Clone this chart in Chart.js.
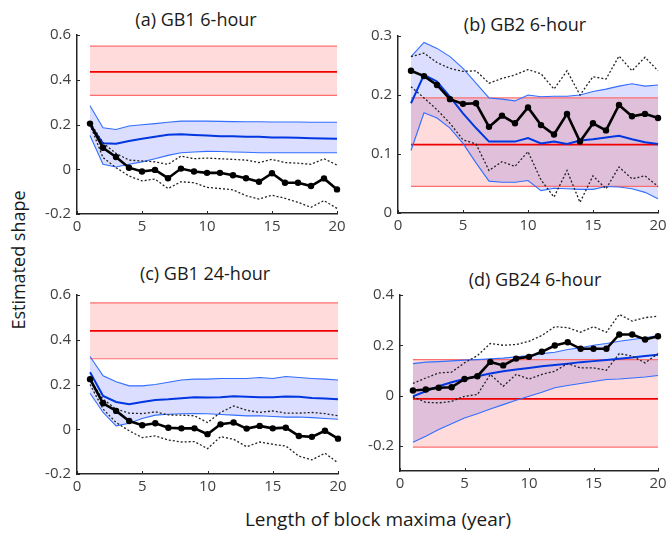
<!DOCTYPE html>
<html>
<head>
<meta charset="utf-8">
<script src="https://cdn.jsdelivr.net/npm/chart.js@4/dist/chart.umd.min.js"></script>
<style>
  body { margin: 0; background: #fff; }
  #wrap { position: relative; width: 667px; height: 534px; font-family: "Open Sans", sans-serif; color: #1a1a1a; }
  canvas { position: absolute; }
  .lbl { position: absolute; white-space: nowrap; transform: translate(-50%, -50%); font-size: 18px; }
  .ylbl { transform: translate(-50%, -50%) rotate(-90deg); font-size: 18px; }
</style>
</head>
<body>
<div id="wrap">
  <div class="lbl" style="left:196px;top:19px">(a) GB1 6-hour</div>
  <div class="lbl" style="left:525px;top:24px">(b) GB2 6-hour</div>
  <div class="lbl" style="left:205px;top:273px">(c) GB1 24-hour</div>
  <div class="lbl" style="left:535px;top:279px">(d) GB24 6-hour</div>
  <div class="lbl ylbl" style="left:18px;top:260px">Estimated shape</div>
  <div class="lbl" style="left:378px;top:519px;font-size:19px">Length of block maxima (year)</div>
  <canvas id="cA"></canvas>
  <canvas id="cB"></canvas>
  <canvas id="cC"></canvas>
  <canvas id="cD"></canvas>
</div>
<script>
const years = [1, 2, 3, 4, 5, 6, 7, 8, 9, 10, 11, 12, 13, 14, 15, 16, 17, 18, 19, 20];
const xTicks = [0, 5, 10, 15, 20];

// (a) GB1 6-hour
const aShape = [0.204, 0.096, 0.055, 0.007, -0.010, -0.003, -0.040, 0.003, -0.010, -0.016, -0.016, -0.027, -0.040, -0.056, -0.018, -0.060, -0.060, -0.075, -0.041, -0.090];
const aDotHi = [0.21, 0.118, 0.071, 0.041, 0.037, 0.033, 0.022, 0.059, 0.047, 0.05, 0.047, 0.044, 0.041, 0.03, 0.044, 0.03, 0.027, 0.022, 0.047, 0.019];
const aDotLo = [0.20, 0.052, 0.007, -0.03, -0.052, -0.044, -0.086, -0.056, -0.06, -0.081, -0.086, -0.092, -0.118, -0.133, -0.116, -0.13, -0.148, -0.17, -0.14, -0.175];
const aBlueHi = [0.284, 0.185, 0.178, 0.193, 0.199, 0.204, 0.21, 0.215, 0.215, 0.215, 0.214, 0.213, 0.212, 0.212, 0.211, 0.211, 0.211, 0.21, 0.21, 0.21];
const aBlueMid = [0.2, 0.116, 0.114, 0.126, 0.136, 0.145, 0.154, 0.156, 0.153, 0.151, 0.148, 0.147, 0.145, 0.145, 0.142, 0.142, 0.141, 0.139, 0.137, 0.136];
const aBlueLo = [0.151, 0.022, 0.01, 0.022, 0.033, 0.047, 0.062, 0.074, 0.077, 0.08, 0.079, 0.077, 0.076, 0.074, 0.074, 0.074, 0.074, 0.074, 0.074, 0.074];
const aRed = [0.33, 0.435, 0.55];
const aYTicks = [-0.2, 0, 0.2, 0.4, 0.6];

// (b) GB2 6-hour
const bShape = [0.241, 0.232, 0.217, 0.193, 0.185, 0.186, 0.146, 0.165, 0.152, 0.179, 0.149, 0.133, 0.168, 0.121, 0.152, 0.140, 0.183, 0.164, 0.168, 0.161];
const bDotHi = [0.265, 0.271, 0.255, 0.245, 0.24, 0.241, 0.22, 0.228, 0.234, 0.243, 0.236, 0.21, 0.241, 0.2, 0.231, 0.227, 0.266, 0.241, 0.264, 0.241];
const bDotLo = [0.214, 0.195, 0.175, 0.152, 0.124, 0.117, 0.072, 0.087, 0.079, 0.104, 0.056, 0.027, 0.072, 0.018, 0.063, 0.041, 0.078, 0.058, 0.063, 0.045];
const bBlueHi = [0.265, 0.289, 0.279, 0.265, 0.245, 0.22, 0.195, 0.193, 0.19, 0.2, 0.197, 0.198, 0.198, 0.2, 0.206, 0.21, 0.215, 0.219, 0.215, 0.217];
const bBlueMid = [0.186, 0.234, 0.223, 0.197, 0.169, 0.144, 0.121, 0.121, 0.121, 0.127, 0.118, 0.121, 0.117, 0.123, 0.125, 0.128, 0.131, 0.125, 0.12, 0.117];
const bBlueLo = [0.106, 0.17, 0.161, 0.144, 0.118, 0.085, 0.054, 0.052, 0.052, 0.055, 0.038, 0.042, 0.041, 0.04, 0.04, 0.045, 0.044, 0.041, 0.035, 0.024];
const bRed = [0.045, 0.116, 0.195];
const bYTicks = [0, 0.1, 0.2, 0.3];

// (c) GB1 24-hour
const cShape = [0.224, 0.116, 0.082, 0.037, 0.018, 0.027, 0.007, 0.004, 0.004, -0.022, 0.022, 0.030, 0.003, 0.015, 0.004, 0.007, -0.030, -0.034, -0.007, -0.042];
const cDotHi = [0.22, 0.134, 0.09, 0.072, 0.07, 0.078, 0.064, 0.063, 0.06, 0.03, 0.075, 0.104, 0.085, 0.075, 0.082, 0.072, 0.072, 0.075, 0.07, 0.06];
const cDotLo = [0.2, 0.09, 0.03, -0.007, -0.037, -0.03, -0.048, -0.057, -0.055, -0.087, -0.033, -0.045, -0.078, -0.057, -0.067, -0.075, -0.12, -0.137, -0.107, -0.15];
const cBlueHi = [0.325, 0.239, 0.212, 0.194, 0.194, 0.2, 0.21, 0.22, 0.224, 0.224, 0.227, 0.227, 0.227, 0.231, 0.227, 0.236, 0.231, 0.227, 0.224, 0.22];
const cBlueMid = [0.255, 0.149, 0.122, 0.112, 0.122, 0.131, 0.134, 0.139, 0.143, 0.142, 0.143, 0.148, 0.145, 0.143, 0.143, 0.146, 0.145, 0.140, 0.137, 0.134];
const cBlueLo = [0.161, 0.075, 0.015, 0.027, 0.048, 0.063, 0.067, 0.069, 0.07, 0.069, 0.066, 0.063, 0.06, 0.06, 0.057, 0.054, 0.055, 0.052, 0.048, 0.045];
const cRed = [0.315, 0.44, 0.565];
const cYTicks = [-0.2, 0, 0.2, 0.4, 0.6];

// (d) GB24 6-hour
const dShape = [0.020, 0.024, 0.031, 0.033, 0.066, 0.077, 0.134, 0.120, 0.147, 0.154, 0.174, 0.199, 0.212, 0.186, 0.186, 0.186, 0.243, 0.243, 0.223, 0.236];
const dDotHi = [0.048, 0.07, 0.09, 0.093, 0.13, 0.159, 0.207, 0.2, 0.203, 0.216, 0.239, 0.274, 0.27, 0.252, 0.274, 0.252, 0.323, 0.296, 0.31, 0.316];
const dDotLo = [-0.005, -0.027, -0.029, -0.023, -0.003, 0.004, 0.084, 0.037, 0.084, 0.066, 0.084, 0.097, 0.127, 0.11, 0.11, 0.101, 0.167, 0.157, 0.13, 0.167];
const dBlueHi = [0.127, 0.133, 0.135, 0.138, 0.141, 0.143, 0.146, 0.149, 0.154, 0.159, 0.167, 0.172, 0.183, 0.19, 0.2, 0.207, 0.216, 0.223, 0.23, 0.239];
const dBlueMid = [-0.003, 0.017, 0.037, 0.053, 0.066, 0.077, 0.088, 0.097, 0.104, 0.11, 0.117, 0.122, 0.127, 0.133, 0.137, 0.141, 0.146, 0.151, 0.157, 0.162];
const dBlueLo = [-0.186, -0.162, -0.135, -0.112, -0.089, -0.072, -0.053, -0.036, -0.019, -0.003, 0.013, 0.031, 0.04, 0.048, 0.056, 0.064, 0.066, 0.07, 0.074, 0.08];
const dRed = [-0.205, -0.013, 0.143];
const dYTicks = [-0.2, 0, 0.2, 0.4];

const AXIS = '#262626';
const TICK = '#404040';

function pts(ys) {
    return ys.map((y, i) => ({ x: years[i], y: y }));
}
function flat(v) {
    return [{ x: years[0], y: v }, { x: years[years.length - 1], y: v }];
}

// MATLAB-style inward tick marks
const inTicks = {
    id: 'inTicks',
    afterDraw(chart) {
        const ctx = chart.ctx;
        const a = chart.chartArea;
        const xs = chart.scales.x, ys = chart.scales.y;
        ctx.save();
        ctx.strokeStyle = AXIS;
        ctx.lineWidth = 1;
        ctx.beginPath();
        xs.ticks.forEach(t => {
            const px = Math.round(xs.getPixelForValue(t.value)) + 0.5;
            ctx.moveTo(px, a.bottom);
            ctx.lineTo(px, a.bottom - 3);
        });
        ys.ticks.forEach(t => {
            const py = Math.round(ys.getPixelForValue(t.value)) + 0.5;
            ctx.moveTo(a.left, py);
            ctx.lineTo(a.left + 3, py);
        });
        ctx.stroke();
        ctx.restore();
    }
};

function makePanel(id, box, d) {
    const padL = 50, padT = 10, padR = 9, padB = 28;
    const cv = document.getElementById(id);
    const w = box.R - box.L + padL + padR;
    const h = box.B - box.T + padT + padB;
    cv.style.left = (box.L - padL) + 'px';
    cv.style.top = (box.T - padT) + 'px';
    cv.style.width = w + 'px';
    cv.style.height = h + 'px';
    cv.width = w;
    cv.height = h;

    const base = { pointRadius: 0, fill: false, clip: false, tension: 0 };
    new Chart(cv.getContext('2d'), {
        type: 'line',
        data: {
            datasets: [
                Object.assign({}, base, { data: pts(d.blueLo), borderWidth: 0, order: 20 }),
                Object.assign({}, base, { data: pts(d.blueHi), borderWidth: 0, fill: 0, backgroundColor: 'rgba(40,60,255,0.17)', order: 19 }),
                Object.assign({}, base, { data: flat(d.red[0]), borderWidth: 0, order: 18 }),
                Object.assign({}, base, { data: flat(d.red[2]), borderWidth: 0, fill: 2, backgroundColor: 'rgba(255,30,30,0.16)', order: 17 }),
                Object.assign({}, base, { data: flat(d.red[0]), borderColor: 'rgb(255,110,110)', borderWidth: 1.2, order: 9 }),
                Object.assign({}, base, { data: flat(d.red[2]), borderColor: 'rgb(255,110,110)', borderWidth: 1.2, order: 9 }),
                Object.assign({}, base, { data: flat(d.red[1]), borderColor: 'rgb(240,0,0)', borderWidth: 1.8, order: 8 }),
                Object.assign({}, base, { data: pts(d.blueLo), borderColor: 'rgb(50,110,255)', borderWidth: 1.1, order: 7 }),
                Object.assign({}, base, { data: pts(d.blueHi), borderColor: 'rgb(50,110,255)', borderWidth: 1.1, order: 7 }),
                Object.assign({}, base, { data: pts(d.blueMid), borderColor: 'rgb(0,55,225)', borderWidth: 2, order: 6 }),
                Object.assign({}, base, { data: pts(d.dotLo), borderColor: '#222', borderWidth: 1.3, borderDash: [2, 2], order: 5 }),
                Object.assign({}, base, { data: pts(d.dotHi), borderColor: '#222', borderWidth: 1.3, borderDash: [2, 2], order: 5 }),
                Object.assign({}, base, { data: pts(d.shape), borderColor: '#000', borderWidth: 2.6, pointRadius: 3.2, pointBackgroundColor: '#000', pointBorderWidth: 0, order: 1 })
            ]
        },
        options: {
            responsive: false,
            animation: false,
            events: [],
            layout: { padding: { left: 0, top: padT, right: padR, bottom: 0 } },
            plugins: { legend: { display: false }, tooltip: { enabled: false } },
            scales: {
                x: {
                    type: 'linear', min: 0, max: 20,
                    afterBuildTicks: s => { s.ticks = xTicks.map(v => ({ value: v })); },
                    afterFit: s => { s.height = padB; s.paddingLeft = 0; s.paddingRight = 0; },
                    grid: { display: true, drawOnChartArea: false, drawTicks: false },
                    border: { display: true, color: AXIS, width: 1.5 },
                    ticks: { padding: 4, color: TICK, font: { family: 'Open Sans', size: 15 }, maxRotation: 0 }
                },
                y: {
                    type: 'linear', min: d.yMin, max: d.yMax,
                    afterBuildTicks: s => { s.ticks = d.yTicks.map(v => ({ value: v })); },
                    afterFit: s => { s.width = padL; s.paddingTop = 0; s.paddingBottom = 0; },
                    grid: { display: true, drawOnChartArea: false, drawTicks: false },
                    border: { display: true, color: AXIS, width: 1.5 },
                    ticks: { padding: 6, color: TICK, font: { family: 'Open Sans', size: 15 }, callback: v => String(Math.round(v * 10) / 10) }
                }
            }
        },
        plugins: [inTicks]
    });
}

makePanel('cA', { L: 77, R: 337, T: 35, B: 214 }, {
    shape: aShape, dotHi: aDotHi, dotLo: aDotLo, blueHi: aBlueHi, blueMid: aBlueMid, blueLo: aBlueLo,
    red: aRed, yTicks: aYTicks, yMin: -0.2, yMax: 0.6
});
makePanel('cB', { L: 398, R: 658, T: 36, B: 213 }, {
    shape: bShape, dotHi: bDotHi, dotLo: bDotLo, blueHi: bBlueHi, blueMid: bBlueMid, blueLo: bBlueLo,
    red: bRed, yTicks: bYTicks, yMin: 0, yMax: 0.3
});
makePanel('cC', { L: 77, R: 338, T: 295, B: 474 }, {
    shape: cShape, dotHi: cDotHi, dotLo: cDotLo, blueHi: cBlueHi, blueMid: cBlueMid, blueLo: cBlueLo,
    red: cRed, yTicks: cYTicks, yMin: -0.2, yMax: 0.6
});
makePanel('cD', { L: 400, R: 658, T: 295, B: 471 }, {
    shape: dShape, dotHi: dDotHi, dotLo: dDotLo, blueHi: dBlueHi, blueMid: dBlueMid, blueLo: dBlueLo,
    red: dRed, yTicks: dYTicks, yMin: -0.3, yMax: 0.4
});
</script>
</body>
</html>
